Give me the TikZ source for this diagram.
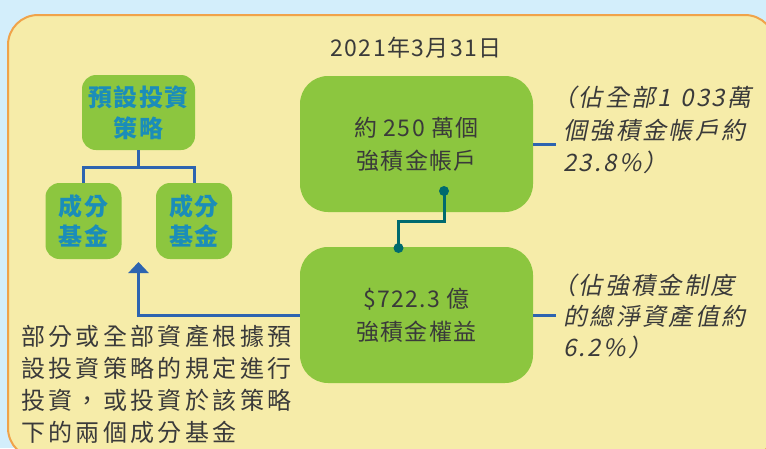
\documentclass[tikz,border=0pt]{standalone}
\usepackage{fontspec}
\setmainfont{Noto Sans CJK TC}[LetterSpace=6]
\newfontfamily\spacedfont{Noto Sans CJK TC}[LetterSpace=14]
\newfontfamily\slantfont{Noto Sans CJK TC}[FakeSlant=0.2,LetterSpace=10]
\usetikzlibrary{arrows.meta}
\definecolor{bgblue}{HTML}{D3EEFB}
\definecolor{paneyellow}{HTML}{F6ECA9}
\definecolor{paneorange}{HTML}{F0A34A}
\definecolor{boxgreen}{HTML}{8CC63F}
\definecolor{labelblue}{HTML}{1B8DB9}
\definecolor{linkblue}{HTML}{2D64B0}
\definecolor{linkteal}{HTML}{006A6E}
\definecolor{textgray}{HTML}{3A3A3A}
\begin{document}
\begin{tikzpicture}[x=1pt,y=-1pt,
  bigbox/.style={fill=boxgreen,rounded corners=28pt,minimum width=233pt,minimum height=136pt,
    align=center,text=textgray,font=\fontsize{23}{33}\selectfont,inner sep=0pt},
  smallbox/.style={fill=boxgreen,rounded corners=14pt,align=center,text=labelblue,
    font=\fontsize{24}{31}\bfseries\selectfont,inner sep=0pt},
  note/.style={align=left,text=textgray,anchor=west,inner sep=0pt},
  dotnode/.style={circle,fill=linkteal,minimum size=10pt,inner sep=0pt},
  bluelink/.style={draw=linkblue,line width=3pt},
  teallink/.style={draw=linkteal,line width=3pt}]
\useasboundingbox (0,0) rectangle (766,448);
\fill[bgblue] (0,0) rectangle (766,448);
\draw[paneorange,fill=paneyellow,line width=2pt,rounded corners=30pt] (8,15) rectangle (775,458);

\node[text=textgray,font=\fontsize{23}{28}\selectfont,inner sep=0pt] (title) at (416,48) {2021年3月31日};

\node[bigbox] (A) at (416.5,144) {約 250 萬個\\強積金帳戶};
\node[bigbox] (B) at (416.5,315) {\$722.3 億\\強積金權益};

\node[smallbox,minimum width=113pt,minimum height=75pt] (S) at (138.5,112.5) {預設投資\\策略};
\node[smallbox,minimum width=76pt,minimum height=76pt,font=\fontsize{24}{30}\bfseries\selectfont] (F1) at (83.5,221) {成分\\基金};
\node[smallbox,minimum width=76pt,minimum height=76pt,font=\fontsize{24}{30}\bfseries\selectfont] (F2) at (194,221) {成分\\基金};

\draw[bluelink] (S.south) -- ++(0,17) -| (F1.north);
\draw[bluelink] (S.south) ++(0,17) -| (F2.north);

\coordinate (tip) at (138.5,262);
\draw[bluelink,-{Triangle[width=20pt,length=11pt]}] (B.west) -| (tip);

\node[dotnode] (d1) at (444,191) {};
\node[dotnode] (d2) at (398.5,248) {};
\draw[teallink] (d1.center) -- ++(0,30) -| (d2.center);

\coordinate (na) at (556,144);
\coordinate (nb) at (556,315);
\draw[bluelink] (A.east) -- (na);
\draw[bluelink] (B.east) -- (nb);

\node[note,font=\slantfont\fontsize{24}{32.5}\selectfont] (noteA) at (563,130)
  {\hspace*{-0.45em}（佔全部1\kern9pt 033萬\\個強積金帳戶約\\23.8\%）};
\node[note,font=\slantfont\fontsize{24}{31}\selectfont] (noteB) at (563,316)
  {\hspace*{-0.45em}（佔強積金制度\\的總淨資產值約\\6.2\%）};

\node[note,font=\spacedfont\fontsize{24}{32}\selectfont] (desc) at (21,384)
  {部分或全部資產根據預\\設投資策略的規定進行\\投資，或投資於該策略\\下的兩個成分基金};
\end{tikzpicture}
\end{document}
